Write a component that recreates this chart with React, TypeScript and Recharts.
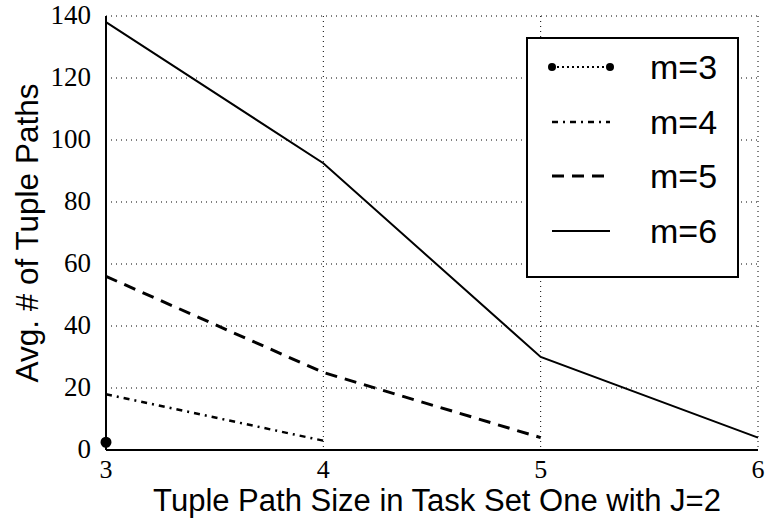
import React from 'react';
import { LineChart, Line, XAxis, YAxis, CartesianGrid } from 'recharts';

// Tuple path sizes on the x axis
const pathSizes = [3, 4, 5, 6];
// Avg. # of tuple paths per m (null = not measured)
const m3 = [2.5, null, null, null];
const m4 = [18, 3, null, null];
const m5 = [56, 25, 4, null];
const m6 = [138, 92.5, 30, 4];
const yTicks = [0, 20, 40, 60, 80, 100, 120, 140];

const data = pathSizes.map((size, i) => ({ size, m3: m3[i], m4: m4[i], m5: m5[i], m6: m6[i] }));

const legendItems = [
  { label: 'm=3', dash: '2 3', width: 2, dots: true },
  { label: 'm=4', dash: '6 5 2 5', width: 2.5, dots: false },
  { label: 'm=5', dash: '12 8', width: 3, dots: false },
  { label: 'm=6', dash: undefined, width: 2, dots: false },
];

const serif = '"Liberation Serif", "DejaVu Serif", serif';
const sans = '"Liberation Sans", Arial, sans-serif';

const XTick = ({ x, y, payload }: any) => (
  <text x={x} y={y + 20} textAnchor="middle" fontFamily={serif} fontSize={26} fill="#000">
    {payload.value}
  </text>
);

const YTick = ({ x, y, payload }: any) => (
  <text x={x - 7} y={y + 2} textAnchor="end" dominantBaseline="middle" fontFamily={serif} fontSize={27} fill="#000">
    {payload.value}
  </text>
);

const Empty = () => <g />;

const LegendBox = () => (
  <div
    style={{
      position: 'absolute',
      left: 526,
      top: 37,
      width: 213,
      height: 241,
      border: '2px solid #000',
      background: '#fff',
      boxSizing: 'border-box',
    }}
  >
    {legendItems.map((item, i) => {
      const cy = 28 + i * 54.5;
      return (
        <div key={item.label} style={{ position: 'absolute', left: 0, top: cy - 20, height: 40, width: '100%' }}>
          <svg width={100} height={40} style={{ position: 'absolute', left: 0, top: 0 }}>
            <line x1={24} x2={82} y1={20} y2={20} stroke="#000" strokeWidth={item.width} strokeDasharray={item.dash} />
            {item.dots && (
              <>
                <circle cx={24} cy={20} r={4} fill="#000" />
                <circle cx={82} cy={20} r={4} fill="#000" />
              </>
            )}
          </svg>
          <span style={{ position: 'absolute', left: 122, top: 1, fontFamily: sans, fontSize: 34, lineHeight: '38px', color: '#000' }}>
            {item.label}
          </span>
        </div>
      );
    })}
  </div>
);

export default function App() {
  return (
    <div style={{ position: 'absolute', left: 0, top: 0, width: 768, height: 523, background: '#fff' }}>
      <LineChart width={768} height={523} data={data} margin={{ top: 16, right: 10, left: 0, bottom: 0 }}>
        <CartesianGrid stroke="#000" strokeDasharray="1 4" strokeWidth={1} />
        <XAxis
          dataKey="size"
          type="number"
          domain={[3, 6]}
          ticks={pathSizes}
          height={73}
          tick={<XTick />}
          tickLine={false}
          axisLine={{ stroke: '#000', strokeWidth: 2 }}
          label={() => (
            <text x={437} y={511} textAnchor="middle" fontFamily={sans} fontSize={31} fill="#000">
              Tuple Path Size in Task Set One with J=2
            </text>
          )}
        />
        <XAxis
          xAxisId="top"
          orientation="top"
          dataKey="size"
          type="number"
          domain={[3, 6]}
          ticks={pathSizes}
          height={0}
          mirror
          tick={<Empty />}
          tickSize={6}
          tickLine={{ stroke: '#000' }}
          axisLine={{ stroke: '#000', strokeWidth: 2 }}
        />
        <YAxis
          type="number"
          domain={[0, 140]}
          ticks={yTicks}
          width={106}
          tick={<YTick />}
          tickLine={false}
          axisLine={{ stroke: '#000', strokeWidth: 2 }}
          label={() => (
            <text
              x={30}
              y={233}
              transform="rotate(-90 30 233)"
              textAnchor="middle"
              dominantBaseline="middle"
              fontFamily={sans}
              fontSize={31.5}
              fill="#000"
            >
              Avg. # of Tuple Paths
            </text>
          )}
        />
        <YAxis
          yAxisId="right"
          orientation="right"
          type="number"
          domain={[0, 140]}
          ticks={yTicks}
          width={0}
          mirror
          tick={<Empty />}
          tickSize={6}
          tickLine={{ stroke: '#000' }}
          axisLine={{ stroke: '#000', strokeWidth: 2 }}
        />
        <Line dataKey="m3" stroke="#000" strokeWidth={2} strokeDasharray="2 3" dot={{ r: 4.5, fill: '#000', stroke: '#000', strokeDasharray: '' }} isAnimationActive={false} />
        <Line dataKey="m4" stroke="#000" strokeWidth={2.5} strokeDasharray="6 5 2 5" dot={false} isAnimationActive={false} />
        <Line dataKey="m5" stroke="#000" strokeWidth={3} strokeDasharray="12 8" dot={false} isAnimationActive={false} />
        <Line dataKey="m6" stroke="#000" strokeWidth={2} dot={false} isAnimationActive={false} />
      </LineChart>
      <LegendBox />
    </div>
  );
}
